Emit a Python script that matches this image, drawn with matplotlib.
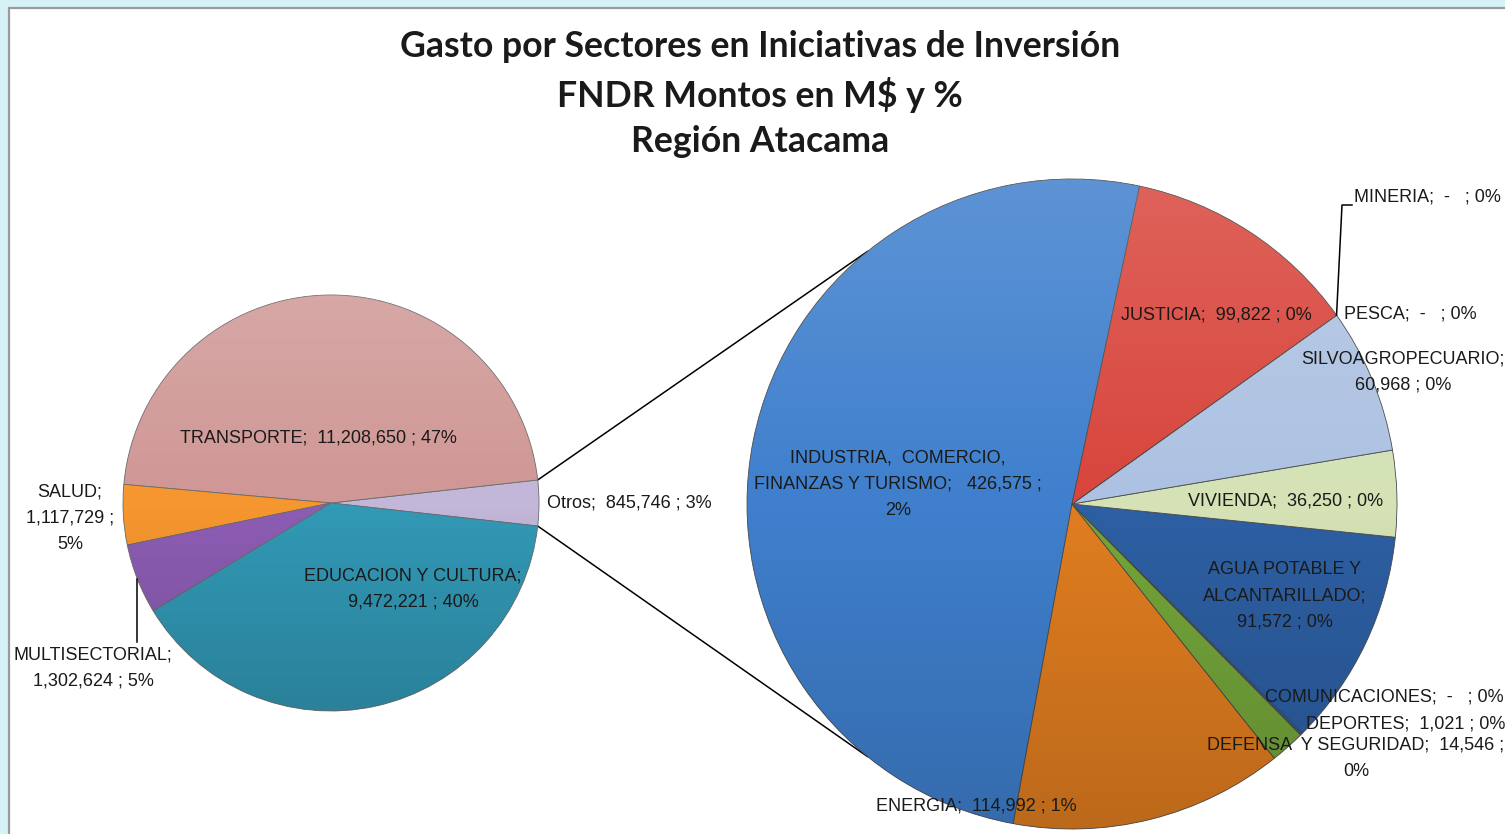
import numpy as np
import matplotlib.pyplot as plt
from matplotlib.patches import Rectangle, Circle

W, H = 1505, 834

# pie principal
main_names = ['Otros', 'TRANSPORTE', 'SALUD', 'MULTISECTORIAL', 'EDUCACION Y CULTURA']
main_values = [845746, 11208650, 1117729, 1302624, 9472221]
main_pct = ['3%', '47%', '5%', '5%', '40%']
main_colors = ['#c2b7d8', '#cf9795', '#f6962f', '#8d5db4', '#3299b6']

# pie secundario (desglose de Otros)
sub_names = ['INDUSTRIA, COMERCIO, FINANZAS Y TURISMO', 'ENERGIA', 'DEFENSA  Y SEGURIDAD',
             'DEPORTES', 'COMUNICACIONES', 'AGUA POTABLE Y ALCANTARILLADO', 'VIVIENDA',
             'SILVOAGROPECUARIO', 'PESCA', 'MINERIA', 'JUSTICIA']
sub_values = [426575, 114992, 14546, 1021, 0, 91572, 36250, 60968, 0, 0, 99822]
sub_pct = ['2%', '1%', '0%', '0%', '0%', '0%', '0%', '0%', '0%', '0%', '0%']
sub_colors = ['#3f7fcd', '#e07d20', '#74a53a', '#2c5d9f', '#2c5d9f', '#2d5fa3', '#d4e2b6',
              '#adc2e2', '#adc2e2', '#d8453c', '#d8453c']


def fmt(v):
    return '-  ' if v == 0 else f'{v:,}'


def Y(p):
    return H - p


plt.rcParams['font.family'] = ['Liberation Sans Narrow', 'Liberation Sans', 'DejaVu Sans']

fig = plt.figure(figsize=(W / 100, H / 100), dpi=100)
fig.patch.set_facecolor('#d6f2f7')
ax = fig.add_axes([0, 0, 1, 1])

ax.add_patch(Rectangle((9, -20), W + 20, Y(8) + 20, facecolor='white',
                       edgecolor='#9a9a9a', linewidth=1.6, zorder=0))

c1, r1 = (331, Y(503)), 208
c2, r2 = (1072, Y(504)), 325

half = 360 * main_values[0] / sum(main_values) / 2
w1, _ = ax.pie(main_values, colors=main_colors, startangle=-half, counterclock=True,
               center=c1, radius=r1, frame=True,
               wedgeprops=dict(edgecolor='#6a6a6a', linewidth=0.6))
w2, _ = ax.pie(sub_values, colors=sub_colors, startangle=78, counterclock=True,
               center=c2, radius=r2, frame=True,
               wedgeprops=dict(edgecolor='#4a4a4a', linewidth=0.6))
for w in w1 + w2:
    w.set_zorder(2)

# sombreado tipo Excel: claro arriba, oscuro abajo
g = np.linspace(1, -1, 256)[:, None]
shade = np.zeros((256, 1, 4))
shade[..., :3] = np.where(g[..., None] > 0, 1.0, 0.0)
shade[..., 3] = np.abs(g) * 0.16
for c, r in [(c1, r1), (c2, r2)]:
    circ = Circle(c, r, transform=ax.transData)
    im = ax.imshow(shade, extent=(c[0] - r, c[0] + r, c[1] - r, c[1] + r),
                   aspect='auto', zorder=2.5, interpolation='bilinear')
    im.set_clip_path(circ)

# lineas de conexion entre Otros y el segundo pie
for a1, a2 in [(half, 129), (-half, 231)]:
    x0 = c1[0] + r1 * np.cos(np.radians(a1))
    y0 = c1[1] + r1 * np.sin(np.radians(a1))
    x1 = c2[0] + r2 * np.cos(np.radians(a2))
    y1 = c2[1] + r2 * np.sin(np.radians(a2))
    ax.plot([x0, x1], [y0, y1], color='black', lw=1.1, zorder=1)

# etiquetas pie principal
fs = 13
ls = 1.7
main_pos = {
    'Otros': (547, 503, 'left'),
    'TRANSPORTE': (318, 438, 'center'),
    'SALUD': (70, 518, 'center'),
    'MULTISECTORIAL': (93, 668, 'center'),
    'EDUCACION Y CULTURA': (413, 589, 'center'),
}
main_text = {
    'Otros': 'Otros;  {v} ; {p}',
    'TRANSPORTE': 'TRANSPORTE;  {v} ; {p}',
    'SALUD': 'SALUD;\n{v} ;\n{p}',
    'MULTISECTORIAL': 'MULTISECTORIAL;\n{v} ; {p}',
    'EDUCACION Y CULTURA': 'EDUCACION Y CULTURA;\n{v} ; {p}',
}
for n, v, p in zip(main_names, main_values, main_pct):
    x, y, ha = main_pos[n]
    ax.text(x, Y(y), main_text[n].format(v=fmt(v), p=p), ha=ha, va='center',
            fontsize=fs, color='#1a1a1a', linespacing=ls, zorder=5)

# linea guia MULTISECTORIAL
ang = np.cumsum([0] + main_values) / sum(main_values) * 360 - half
am = np.radians((ang[3] + ang[4]) / 2)
xm = c1[0] + r1 * np.cos(am)
ax.plot([xm, xm], [c1[1] + r1 * np.sin(am), Y(642)], color='black', lw=1.1, zorder=3)

# etiquetas pie secundario
sub_pos = {
    'INDUSTRIA, COMERCIO, FINANZAS Y TURISMO': (898, 484, 'center'),
    'ENERGIA': (976, 806, 'center'),
    'DEFENSA  Y SEGURIDAD': (1356, 758, 'center'),
    'DEPORTES': (1406, 724, 'center'),
    'COMUNICACIONES': (1384, 697, 'center'),
    'AGUA POTABLE Y ALCANTARILLADO': (1285, 596, 'center'),
    'VIVIENDA': (1286, 501, 'center'),
    'SILVOAGROPECUARIO': (1403, 372, 'center'),
    'PESCA': (1344, 314, 'left'),
    'MINERIA': (1354, 197, 'left'),
    'JUSTICIA': (1216, 315, 'center'),
}
sub_text = {
    'INDUSTRIA, COMERCIO, FINANZAS Y TURISMO': 'INDUSTRIA,  COMERCIO,\nFINANZAS Y TURISMO;   {v} ;\n{p}',
    'DEFENSA  Y SEGURIDAD': 'DEFENSA  Y SEGURIDAD;  {v} ;\n{p}',
    'AGUA POTABLE Y ALCANTARILLADO': 'AGUA POTABLE Y\nALCANTARILLADO;\n{v} ; {p}',
    'SILVOAGROPECUARIO': 'SILVOAGROPECUARIO;\n{v} ; {p}',
}
for n, v, p in zip(sub_names, sub_values, sub_pct):
    x, y, ha = sub_pos[n]
    t = sub_text.get(n, n + ';  {v} ; {p}')
    ax.text(x, Y(y), t.format(v=fmt(v), p=p), ha=ha, va='center',
            fontsize=fs, color='#1a1a1a', linespacing=ls, zorder=5)

# linea guia MINERIA
ang2 = np.cumsum([0] + sub_values) / sum(sub_values) * 360 + 78
a = np.radians(ang2[9])
xs, ys = c2[0] + r2 * np.cos(a), c2[1] + r2 * np.sin(a)
ax.plot([xs, 1342, 1352], [ys, Y(205), Y(205)], color='black', lw=1.1, zorder=3)

fig.text(760 / W, 1 - 94 / H,
         'Gasto por Sectores en Iniciativas de Inversión\nFNDR Montos en M$ y %\nRegión Atacama',
         ha='center', va='center', fontsize=25.7, fontweight='bold', color='#1a1a1a',
         family=['Lato', 'DejaVu Sans'], linespacing=1.46)

ax.set_xlim(0, W)
ax.set_ylim(0, H)
ax.set_aspect('auto')
ax.axis('off')

fig.savefig('out.png', dpi=100, facecolor=fig.get_facecolor())
